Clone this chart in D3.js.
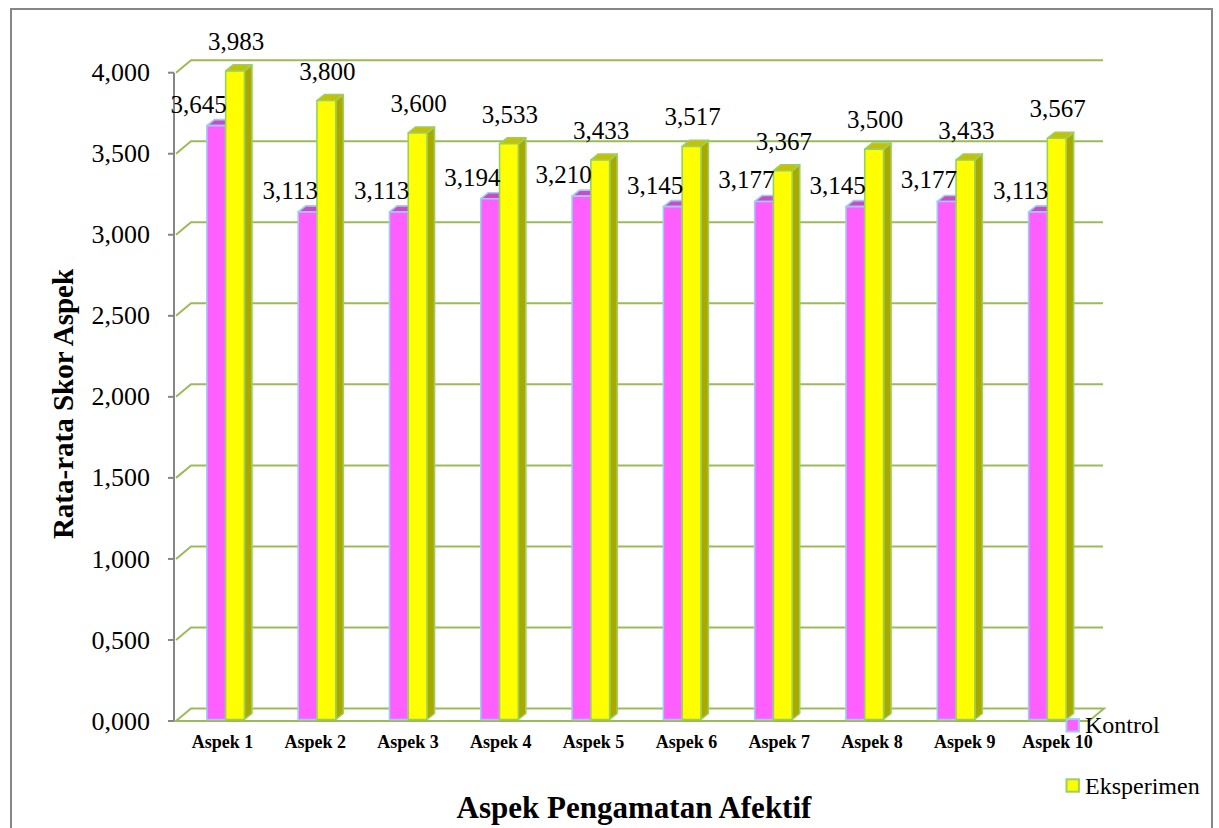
<!DOCTYPE html>
<html>
<head>
<meta charset="utf-8">
<script src="https://cdn.jsdelivr.net/npm/d3@7/dist/d3.min.js"></script>
<style>
  html, body { margin: 0; padding: 0; background: #ffffff; }
  svg { display: block; }
  text { font-family: "Liberation Serif", "Times New Roman", serif; fill: #000; }
</style>
</head>
<body>
<svg id="chart" width="1219" height="828"></svg>
<script>
// Average affective observation scores per aspect
const categories = ["Aspek 1", "Aspek 2", "Aspek 3", "Aspek 4", "Aspek 5",
                    "Aspek 6", "Aspek 7", "Aspek 8", "Aspek 9", "Aspek 10"];
const seriesNames = ["Kontrol", "Eksperimen"];
const kontrol    = [3.645, 3.113, 3.113, 3.194, 3.210, 3.145, 3.177, 3.145, 3.177, 3.113];
const eksperimen = [3.983, 3.800, 3.600, 3.533, 3.433, 3.517, 3.367, 3.500, 3.433, 3.567];
const yTicks = [0, 0.5, 1, 1.5, 2, 2.5, 3, 3.5, 4];

const svg = d3.select("#chart");
const W = 1219, H = 828;

// Indonesian number format: comma as decimal separator
const idLocale = d3.formatLocale({ decimal: ",", thousands: ".", grouping: [3], currency: ["Rp", ""] });
const fmt = idLocale.format(".3f");

// Layout
const axisX = 174;
const plot = { left: 176, right: 1089, top: 72.7, bottom: 721 };
const wallDX = 15, wallDY = -12.5;      // depth of the back wall
const faceDX = 4, faceDY = -4.6;        // bar front faces sit slightly back
const barDX = 7.5, barDY = -6;          // bar depth (top/side faces)
const gridGreen = "#9bbb59";

const style = {
  Kontrol:    { front: "#ff5fff", top: "#c94bc9", side: "#b040b0", edge: "#9fcdf2" },
  Eksperimen: { front: "#ffff00", top: "#c8bf00", side: "#a9a900", edge: "#9bd05a" }
};

const y = d3.scaleLinear().domain([0, 4]).range([plot.bottom, plot.top]);
const x = d3.scaleBand().domain(categories).range([plot.left, plot.right]);
const bw = x.bandwidth();
const inner = d3.scaleBand().domain(seriesNames).range([0, bw]).paddingInner(0).paddingOuter(1.43);
const labelX = d3.scaleBand().domain(categories).range([176, 1104]);

// Outer chart border
svg.append("rect")
  .attr("x", 11).attr("y", 9).attr("width", 1201).attr("height", 840)
  .attr("fill", "#fff").attr("stroke", "#868686").attr("stroke-width", 2);

// Gridlines on the back wall (with side diagonals)
const grid = svg.append("g").attr("fill", "none").attr("stroke", gridGreen).attr("stroke-width", 2);
yTicks.filter(v => v > 0).forEach(v => {
  const yy = y(v);
  grid.append("path")
    .attr("d", `M${plot.left},${yy} L${plot.left + wallDX},${yy + wallDY} L${plot.right + wallDX - 1},${yy + wallDY}`);
});

// Floor
grid.append("path")
  .attr("d", `M${plot.left},${y(0)} L${plot.right},${y(0)} L${plot.right + wallDX},${y(0) + wallDY} L${plot.left + wallDX},${y(0) + wallDY} Z`);

// Value axis
const axisG = svg.append("g").attr("stroke", "#868686").attr("stroke-width", 2);
axisG.append("line").attr("x1", axisX).attr("x2", axisX).attr("y1", y(4)).attr("y2", y(0));
yTicks.forEach(v => {
  axisG.append("line").attr("x1", axisX - 6).attr("x2", axisX).attr("y1", y(v)).attr("y2", y(v));
});
svg.append("g").selectAll("text").data(yTicks).join("text")
  .attr("x", 150).attr("y", d => y(d)).attr("dy", "0.33em")
  .attr("text-anchor", "end").style("font-size", "26px")
  .text(d => fmt(d));

// Bars drawn as 3D columns: side, top, then front face
const rows = categories.map((c, i) => ({ cat: c, Kontrol: kontrol[i], Eksperimen: eksperimen[i] }));
const barsG = svg.append("g");
rows.forEach(r => {
  seriesNames.forEach(s => {
    const st = style[s];
    const x0 = x(r.cat) + inner(s) + faceDX;
    const x1 = x0 + inner.bandwidth();
    const yt = y(r[s]) + faceDY;
    const yb = y(0) - 1.5;
    const g = barsG.append("g").attr("stroke", st.edge).attr("stroke-width", 1.6).attr("stroke-linejoin", "round");
    g.append("path").attr("fill", st.side)
      .attr("d", `M${x1},${yt} L${x1 + barDX},${yt + barDY} L${x1 + barDX},${yb + barDY} L${x1},${yb} Z`);
    g.append("path").attr("fill", st.top)
      .attr("d", `M${x0},${yt} L${x0 + barDX},${yt + barDY} L${x1 + barDX},${yt + barDY} L${x1},${yt} Z`);
    g.append("rect").attr("fill", st.front)
      .attr("x", x0).attr("y", yt).attr("width", x1 - x0).attr("height", yb - yt);
  });
});

// Data labels
const labelsG = svg.append("g").style("font-size", "25px");
rows.forEach(r => {
  const kx0 = x(r.cat) + inner("Kontrol") + faceDX;
  const ex0 = x(r.cat) + inner("Eksperimen") + faceDX;
  labelsG.append("text")
    .attr("x", ex0 + 1).attr("y", y(r.Kontrol) + faceDY - 13)
    .attr("text-anchor", "end").text(fmt(r.Kontrol));
  labelsG.append("text")
    .attr("x", ex0 + inner.bandwidth() / 2 + 1).attr("y", y(r.Eksperimen) + faceDY - 21)
    .attr("text-anchor", "middle").text(fmt(r.Eksperimen));
});

// Category labels
svg.append("g").selectAll("text").data(categories).join("text")
  .attr("x", d => labelX(d) + labelX.bandwidth() / 2).attr("y", 748)
  .attr("text-anchor", "middle").style("font-size", "18px").style("font-weight", "bold")
  .text(d => d);

// Axis titles
svg.append("text")
  .attr("transform", "translate(72.5,404) rotate(-90)")
  .attr("text-anchor", "middle").style("font-size", "29px").style("font-weight", "bold")
  .text("Rata-rata Skor Aspek");
svg.append("text")
  .attr("x", 634).attr("y", 818)
  .attr("text-anchor", "middle").style("font-size", "31px").style("font-weight", "bold")
  .text("Aspek Pengamatan Afektif");

// Legend
const legendG = svg.append("g");
seriesNames.forEach((s, i) => {
  const ly = [725.3, 785.5][i];
  legendG.append("rect")
    .attr("x", 1066.5).attr("y", ly - 6.2).attr("width", 12.4).attr("height", 12.4)
    .attr("fill", style[s].front).attr("stroke", style[s].edge).attr("stroke-width", 2);
  legendG.append("text")
    .attr("x", 1085).attr("y", ly + 8).style("font-size", "24px").text(s);
});
</script>
</body>
</html>
